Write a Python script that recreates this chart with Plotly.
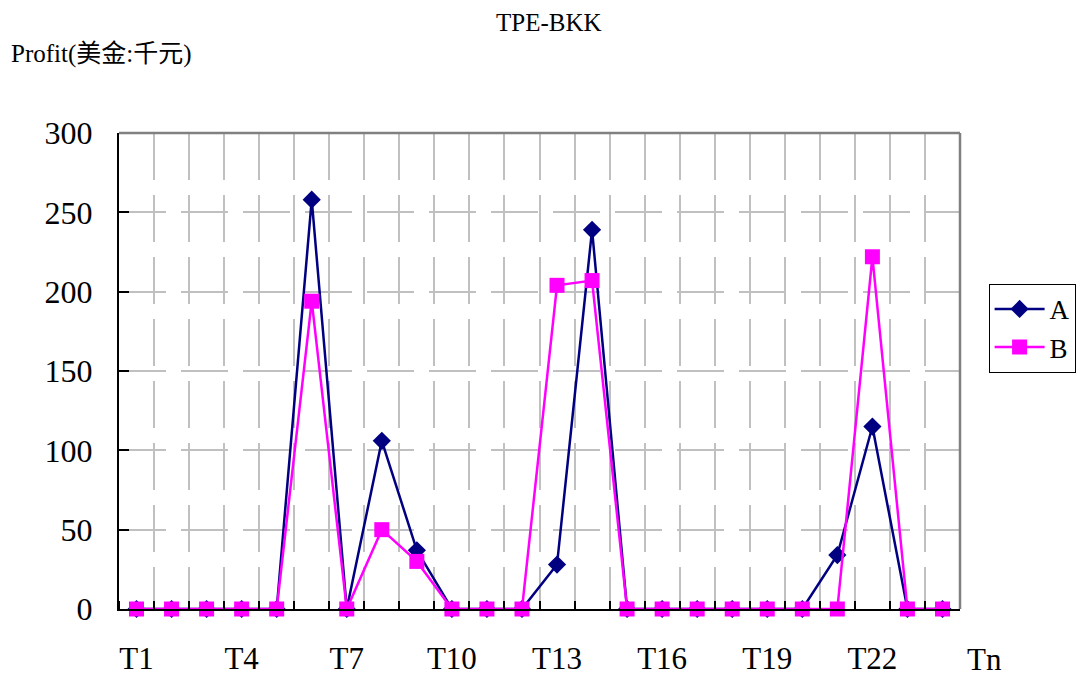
import plotly.graph_objects as go

categories = [f"T{i}" for i in range(1, 25)]
x_pos = list(range(1, 25))
series_a = [0, 0, 0, 0, 0, 258, 0, 106, 37, 0, 0, 0, 28, 239, 0, 0, 0, 0, 0, 0, 34, 115, 0, 0]
series_b = [0, 0, 0, 0, 0, 194, 0, 50, 30, 0, 0, 0, 204, 207, 0, 0, 0, 0, 0, 0, 0, 222, 0, 0]
tick_positions = [1, 4, 7, 10, 13, 16, 19, 22]
tick_labels = ["T1", "T4", "T7", "T10", "T13", "T16", "T19", "T22"]
y_ticks = [0, 50, 100, 150, 200, 250, 300]

FONT = "Liberation Serif, 'Times New Roman', 'Noto Sans CJK TC', serif"
GRID = "#c0c0c0"

fig = go.Figure()
fig.add_trace(go.Scatter(
    x=x_pos, y=series_a, name="A", mode="lines+markers",
    line=dict(color="#000080", width=2.5),
    marker=dict(symbol="diamond", size=14, color="#000080"),
    cliponaxis=False,
))
fig.add_trace(go.Scatter(
    x=x_pos, y=series_b, name="B", mode="lines+markers",
    line=dict(color="#FF00FF", width=2.5),
    marker=dict(symbol="square", size=15, color="#FF00FF"),
    cliponaxis=False,
))

fig.update_layout(
    width=1085, height=676,
    margin=dict(l=119, r=125, t=133, b=67, autoexpand=False),
    paper_bgcolor="white", plot_bgcolor="white",
    font=dict(family=FONT, color="#000000"),
    title=dict(text="TPE-BKK", x=0.511, xref="paper", xanchor="center",
               y=0.967, yref="container", yanchor="middle",
               font=dict(size=25, family=FONT)),
    showlegend=True,
    legend=dict(x=1.034, xanchor="left", y=0.683, yanchor="top",
                bordercolor="#000000", borderwidth=1, bgcolor="white",
                font=dict(size=27, family=FONT), itemwidth=50,
                tracegroupgap=4),
    xaxis=dict(
        range=[0.5, 24.5], tickmode="array", tickvals=tick_positions, ticktext=tick_labels,
        ticks="", showgrid=False, zeroline=False, automargin=False,
        showline=True, linecolor="#000000", linewidth=2,
        tickfont=dict(size=31, family=FONT), ticklabelstandoff=21,
        minor=dict(tickmode="linear", tick0=0.5, dtick=1, ticks="inside", ticklen=8,
                   tickcolor="#000000", tickwidth=1.5,
                   showgrid=True, gridcolor=GRID, gridwidth=1.5, griddash="47px,15px"),
    ),
    yaxis=dict(
        range=[0, 300], tickmode="array", tickvals=y_ticks, automargin=False,
        ticks="inside", ticklen=10, tickcolor="#000000", tickwidth=1.5,
        showgrid=True, gridcolor=GRID, gridwidth=1.5, griddash="47px,15px",
        zeroline=False, showline=True, linecolor="#000000", linewidth=2,
        tickfont=dict(size=32, family=FONT), ticklabelstandoff=18,
    ),
    shapes=[
        dict(type="line", xref="paper", yref="paper", x0=0, x1=1, y0=1, y1=1,
             line=dict(color="#808080", width=2.5), layer="above"),
        dict(type="line", xref="paper", yref="paper", x0=1, x1=1, y0=0, y1=1,
             line=dict(color="#808080", width=2.5), layer="above"),
    ],
    annotations=[
        dict(text="Profit(美金:千元)", xref="paper", yref="paper", x=-0.131, y=1.165,
             xanchor="left", yanchor="middle", showarrow=False,
             font=dict(size=25, family=FONT)),
        dict(text="Tn", xref="paper", yref="paper", x=1.0297, y=-0.107,
             xanchor="center", yanchor="middle", showarrow=False,
             font=dict(size=31, family=FONT)),
    ],
)

fig.write_html("out.html")
